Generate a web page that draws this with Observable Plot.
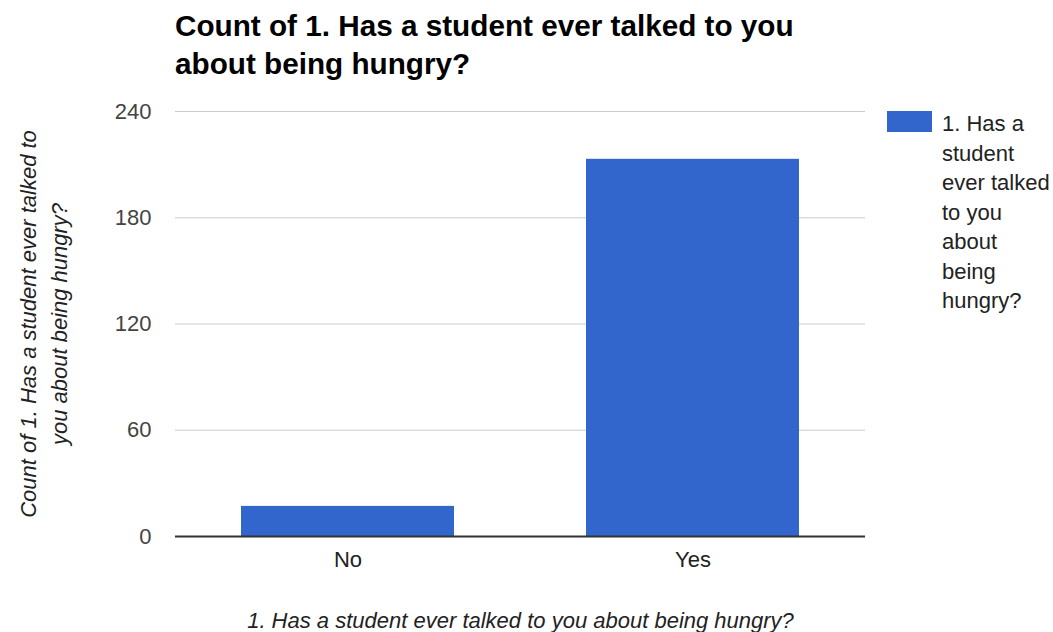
<!DOCTYPE html>
<html><head><meta charset="utf-8">
<script src="https://cdn.jsdelivr.net/npm/d3@7"></script>
<script src="https://cdn.jsdelivr.net/npm/@observablehq/plot@0.6"></script>
<style>
body{margin:0;background:#fff;font-family:"Liberation Sans",Arial,sans-serif;}
#wrap{position:relative;width:1053px;height:632px;overflow:hidden;}
#title{position:absolute;left:175px;top:7px;width:660px;font-weight:bold;font-size:29.7px;line-height:38px;color:#000;}
#chart{position:absolute;left:0;top:90px;}
#legend{position:absolute;left:887px;top:111px;width:166px;}
#legend .sw{position:absolute;left:0;top:0;width:45px;height:21px;background:#3366cc;}
#legend .lt{position:absolute;left:55px;top:-2px;width:112px;font-size:22px;line-height:29.5px;color:#222;}
</style>
</head><body>
<div id="wrap">
  <div id="title"></div>
  <div id="chart"></div>
  <div id="legend"><div class="sw"></div><div class="lt"></div></div>
</div>
<script>
const titleText = "Count of 1. Has a student ever talked to you about being hungry?";
const categories = ["No", "Yes"];
const counts = [17, 213];
const yTicks = [0, 60, 120, 180, 240];
const seriesName = "1. Has a student ever talked to you about being hungry?";
const yTitle = "Count of 1. Has a student ever talked to\nyou about being hungry?";
const xTitle = "1. Has a student ever talked to you about being hungry?";
const barColor = "#3366cc";

const data = categories.map((c, i) => ({category: c, count: counts[i]}));

document.getElementById("title").textContent = titleText;
document.querySelector("#legend .lt").textContent = seriesName;
document.querySelector("#legend .sw").style.background = barColor;

const font = "'Liberation Sans', Arial, sans-serif";
const chart = Plot.plot({
  width: 1053,
  height: 542,
  marginLeft: 175,
  marginRight: 188,
  marginTop: 21,
  marginBottom: 96,
  style: {fontFamily: font, fontSize: "22px", background: "#fff", overflow: "visible"},
  x: {domain: categories, paddingInner: 0.383, paddingOuter: 0.19, label: null},
  y: {domain: [0, 240], label: null},
  marks: [
    Plot.gridY(yTicks, {stroke: "#cccccc", strokeOpacity: 1}),
    Plot.barY(data, {x: "category", y: "count", fill: barColor}),
    Plot.ruleY([0], {stroke: "#333", strokeWidth: 2}),
    Plot.axisY(yTicks, {tickSize: 0, tickPadding: 24, fontSize: 22, fill: "#444", label: null}),
    Plot.axisX({tickSize: 0, tickPadding: 15, fontSize: 22, fill: "#222", label: null}),
    Plot.text([yTitle], {frameAnchor: "left", textAnchor: "middle", lineAnchor: "middle", dx: -133.5, rotate: -90, fontStyle: "italic", fontSize: 22, lineHeight: 1.4, fill: "#222"}),
    Plot.text([xTitle], {frameAnchor: "bottom", textAnchor: "middle", lineAnchor: "middle", dy: 84, fontStyle: "italic", fontSize: 22, fill: "#222"})
  ]
});
document.getElementById("chart").appendChild(chart);
</script>
</body></html>
